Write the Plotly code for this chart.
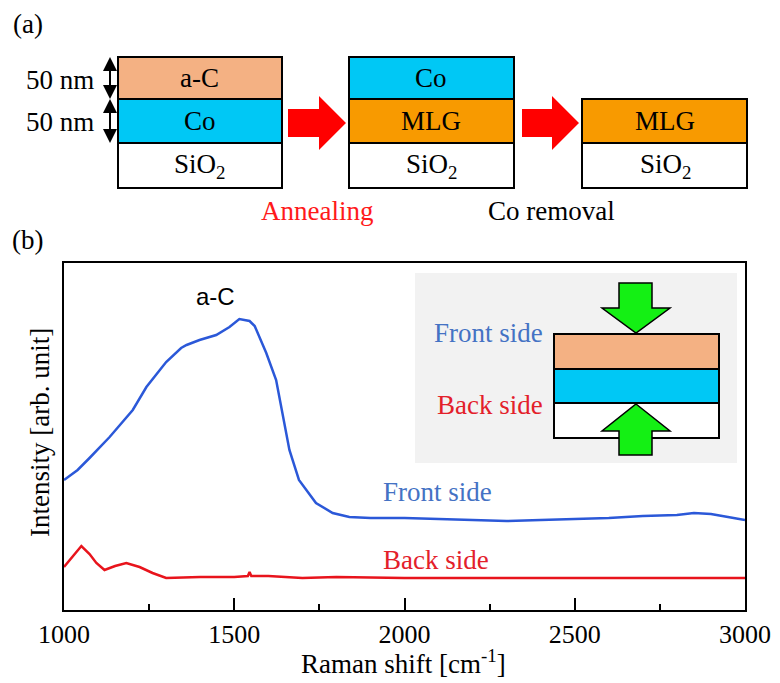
import plotly.graph_objects as go

W, H = 780, 683

# ---- data ----
raman_front = [1000, 1040, 1075, 1134, 1202, 1242, 1300, 1344, 1360, 1398, 1447, 1486, 1515, 1545,
               1560, 1575, 1594, 1623, 1640, 1662, 1690, 1740, 1789, 1838, 1900, 2000, 2100, 2200,
               2300, 2400, 2500, 2600, 2700, 2800, 2850, 2900, 2950, 3000]
int_front = [130, 140, 152, 173, 200, 223, 248, 262, 265, 270, 275, 283, 291, 289,
             284, 272, 257, 230, 200, 160, 130, 107, 97, 93, 92, 92, 91, 90,
             89, 90, 91, 92, 94, 95, 97, 96, 93, 90]
raman_back = [1000, 1025, 1051, 1075, 1095, 1119, 1150, 1183, 1222, 1260, 1300, 1400, 1500, 1540,
              1545, 1550, 1600, 1700, 1800, 2000, 2200, 2400, 2600, 2800, 3000]
int_back = [43, 53, 64, 56, 47, 40, 44, 47, 43, 37, 32, 33, 33, 34,
            38, 34, 34, 32, 33, 32, 32, 32, 32, 32, 32]
x_ticks = [1000, 1500, 2000, 2500, 3000]

SERIF = "Liberation Serif"
BLUE_LINE = "#2b58d8"
RED_LINE = "#e8141c"
BLUE_TXT = "#4472c4"
RED_TXT = "#e3202a"
PEACH = "#f4b183"
CYAN = "#00c8f5"
ORANGE = "#f89a00"
GREEN = "#14f014"


def px(x):
    return x / W


def py(y):
    return 1 - y / H


def path(pts):
    s = "M " + " L ".join(f"{px(x):.5f},{py(y):.5f}" for x, y in pts) + " Z"
    return s


shapes = []
annotations = []


def rect(x0, y0, x1, y1, fill, lw=2, color="black"):
    shapes.append(dict(type="rect", xref="paper", yref="paper", x0=px(x0), x1=px(x1),
                       y0=py(y1), y1=py(y0), fillcolor=fill,
                       line=dict(color=color, width=lw), layer="above"))


def poly(pts, fill, lw=0, color="black"):
    shapes.append(dict(type="path", xref="paper", yref="paper", path=path(pts),
                       fillcolor=fill, line=dict(color=color, width=lw), layer="above"))


def text(x, y, t, size=27, color="black", family=SERIF, xanchor="center", angle=0):
    annotations.append(dict(x=px(x), y=py(y), xref="paper", yref="paper", text=t,
                            showarrow=False, xanchor=xanchor, yanchor="middle",
                            textangle=angle,
                            font=dict(family=family, size=size, color=color)))


# ---- panel (a) ----
text(28, 24, "(a)")
# box 1
rect(118, 57, 282, 99, PEACH)
rect(118, 99, 282, 143, CYAN)
rect(118, 143, 282, 188, "white")
text(200, 78, "a-C")
text(200, 121, "Co")
text(200, 166, "SiO<sub>2</sub>")
# thickness arrows
for (ya, yb) in [(57, 99), (99, 143)]:
    shapes.append(dict(type="line", xref="paper", yref="paper", x0=px(110), x1=px(110),
                       y0=py(ya + 8), y1=py(yb - 8), line=dict(color="black", width=2), layer="above"))
    poly([(110, ya), (117, ya + 14), (103, ya + 14)], "black")
    poly([(110, yb), (117, yb - 14), (103, yb - 14)], "black")
text(60, 80, "50 nm", xanchor="center")
text(60, 122, "50 nm", xanchor="center")
# red arrow 1
poly([(288, 109), (319, 109), (319, 96), (346, 123), (319, 150), (319, 137), (288, 137)], "#ff0000")
# box 2
rect(349, 57, 514, 99, CYAN)
rect(349, 99, 514, 143, ORANGE)
rect(349, 143, 514, 188, "white")
text(431, 78, "Co")
text(431, 121, "MLG")
text(431, 166, "SiO<sub>2</sub>")
# red arrow 2
poly([(522, 109), (552, 109), (552, 96), (579, 123), (552, 150), (552, 137), (522, 137)], "#ff0000")
# box 3
rect(582, 99, 747, 143, ORANGE)
rect(582, 143, 747, 188, "white")
text(665, 121, "MLG")
text(665, 166, "SiO<sub>2</sub>")
text(317, 211, "Annealing", color="#ff1a1a")
text(551, 211, "Co removal")

# ---- panel (b) ----
text(28, 240, "(b)")
# inset
rect(415, 273, 737, 463, "#f2f2f2", lw=0, color="#f2f2f2")
rect(554, 334, 719, 369, PEACH)
rect(554, 369, 719, 403, CYAN)
rect(554, 403, 719, 438, "white")
poly([(619, 283), (652, 283), (652, 308), (670, 308), (636, 333), (602, 308), (619, 308)], GREEN, lw=1.5)
poly([(636, 404), (670, 431), (652, 431), (652, 455), (619, 455), (619, 431), (602, 431)], GREEN, lw=1.5)
text(545, 333, "Front side", color=BLUE_TXT, xanchor="right")
text(545, 405, "Back side", color=RED_TXT, xanchor="right")
# curve labels
text(215, 297, "a-C", size=24, family="Liberation Sans")
text(437, 492, "Front side", color=BLUE_TXT)
text(436, 560, "Back side", color=RED_TXT)
# axis titles
text(40, 433, "Intensity [arb. unit]", angle=-90)
text(403, 662, "Raman shift [cm<sup>-1</sup>]")

fig = go.Figure()
fig.add_trace(go.Scatter(x=raman_front, y=int_front, mode="lines",
                         line=dict(color=BLUE_LINE, width=2.5),
                         showlegend=False, name="Front side"))
fig.add_trace(go.Scatter(x=raman_back, y=int_back, mode="lines",
                         line=dict(color=RED_LINE, width=2.5),
                         showlegend=False, name="Back side"))

fig.update_layout(
    width=W, height=H,
    margin=dict(l=0, r=0, t=0, b=0, pad=0),
    paper_bgcolor="white", plot_bgcolor="white",
    shapes=shapes, annotations=annotations,
    xaxis=dict(domain=[px(64), px(745)], range=[1000, 3000], automargin=False,
               tickvals=x_ticks, ticktext=[str(v) for v in x_ticks],
               ticks="inside", ticklen=12, tickwidth=2, tickcolor="black",
               minor=dict(dtick=250, tick0=1000, ticks="inside", ticklen=6, tickwidth=2, tickcolor="black"),
               showline=True, linecolor="black", linewidth=2, mirror=True,
               showgrid=False, zeroline=False,
               tickfont=dict(family=SERIF, size=26, color="black")),
    yaxis=dict(domain=[py(610), py(263)], range=[0, 347], automargin=False,
               showticklabels=False, ticks="",
               showline=True, linecolor="black", linewidth=2, mirror=True,
               showgrid=False, zeroline=False),
)

fig.write_html("out.html")
